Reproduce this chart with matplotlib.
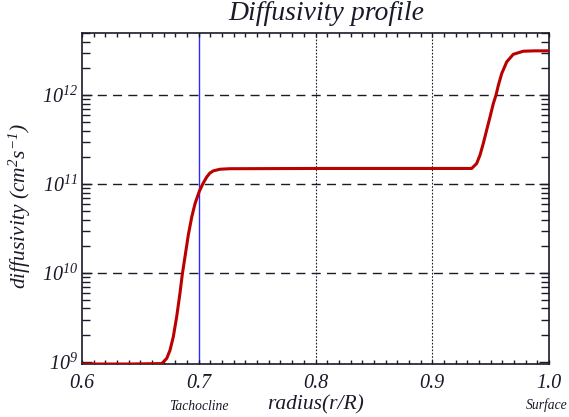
import matplotlib
matplotlib.use("Agg")
import matplotlib.pyplot as plt
from matplotlib.ticker import MultipleLocator, LogLocator, NullFormatter

plt.rcParams['font.family'] = ['Liberation Serif', 'DejaVu Serif']
plt.rcParams['font.style'] = 'italic'
plt.rcParams['mathtext.fontset'] = 'custom'
plt.rcParams['mathtext.rm'] = 'Liberation Serif:italic'
plt.rcParams['mathtext.it'] = 'Liberation Serif:italic'

# data
radius = [0.600, 0.640, 0.6683, 0.6726, 0.6754, 0.6782, 0.6811, 0.6839,
          0.6859, 0.6882, 0.6911, 0.6940, 0.6968, 0.7005, 0.7037, 0.7068,
          0.7095, 0.7125, 0.7182, 0.7266, 0.8000, 0.9000, 0.9338, 0.9381,
          0.9409, 0.9437, 0.9466, 0.9495, 0.9523, 0.9546, 0.9566, 0.9595,
          0.9638, 0.9694, 0.9780, 0.9880, 1.000]
diffusivity = [9.5e8, 9.5e8, 9.6e8, 1.10e9, 1.36e9, 1.92e9, 3.23e9, 5.92e9,
               9.66e9, 1.52e10, 2.70e10, 4.27e10, 6.03e10, 8.32e10, 1.02e11, 1.20e11,
               1.33e11, 1.41e11, 1.47e11, 1.49e11, 1.5e11, 1.5e11, 1.5e11, 1.71e11,
               2.12e11, 2.86e11, 4.05e11, 5.70e11, 8.05e11, 1.0e12, 1.29e12, 1.75e12,
               2.37e12, 2.88e12, 3.12e12, 3.15e12, 3.15e12]

hlines = [1e10, 1e11, 1e12]
vdotted = [0.8, 0.9]
tachocline = 0.7
xticks = [0.6, 0.7, 0.8, 0.9, 1.0]
xticklabels = ['0.6', '0.7', '0.8', '0.9', '1.0']

fig = plt.figure(figsize=(5.69, 4.17), dpi=100)
ax = fig.add_axes([82/569, 1-364/417, (549-82)/569, (364-33)/417])
ax.set_yscale('log')
ax.set_xlim(0.6, 1.0)
ax.set_ylim(9.5e8, 5e12)

for h in hlines:
    ax.axhline(h, color='#1a1a2a', lw=1.0, ls=(0, (6.5, 4.5)), zorder=1)
for v in vdotted:
    ax.axvline(v, color='#1a1a2a', lw=0.8, ls=(0, (1.5, 1.5)), zorder=1)
ax.axvline(tachocline, color='#2a2aff', lw=1.0, zorder=1)

ax.plot(radius, diffusivity, color='#bb0000', lw=2.2, zorder=3,
        solid_joinstyle='round')

ax.set_xticks(xticks)
ax.set_xticklabels(xticklabels)
ax.xaxis.set_minor_locator(MultipleLocator(0.01))
ax.yaxis.set_major_locator(LogLocator(base=10, numticks=10))
ax.yaxis.set_minor_locator(LogLocator(base=10, subs=range(2, 10), numticks=20))
ax.yaxis.set_minor_formatter(NullFormatter())
ax.tick_params(axis='both', which='both', direction='in', top=True, right=True,
               color='#1a1a2a', labelsize=14.5, labelcolor='#1a1a2a')
ax.tick_params(axis='x', which='both', length=3, width=1, pad=7)
ax.tick_params(axis='y', which='major', length=7, width=1, pad=3)
ax.tick_params(axis='y', which='minor', length=6, width=1)
for s in ax.spines.values():
    s.set_linewidth(1.2)
    s.set_color('#1a1a2a')

fig.text(326/569, 1-14/417, 'Diffusivity profile', fontsize=20, ha='center',
         va='center', color='#1a1a2a')
fig.text(20/569, 1-206/417, r'diffusivity (cm$^2$s$^{-1}$)', fontsize=15.5,
         rotation=90, ha='center', va='center', color='#1a1a2a')
fig.text(316/569, 1-405/417, 'radius(r/R)', fontsize=15.5, ha='center',
         va='center', color='#1a1a2a')
fig.text(199/569, 1-407/417, 'Tachocline', fontsize=9.8, ha='center',
         va='center', color='#1a1a2a')
fig.text(547/569, 1-405/417, 'Surface', fontsize=9.8, ha='center',
         va='center', color='#1a1a2a')

fig.savefig('out.png', dpi=100)
